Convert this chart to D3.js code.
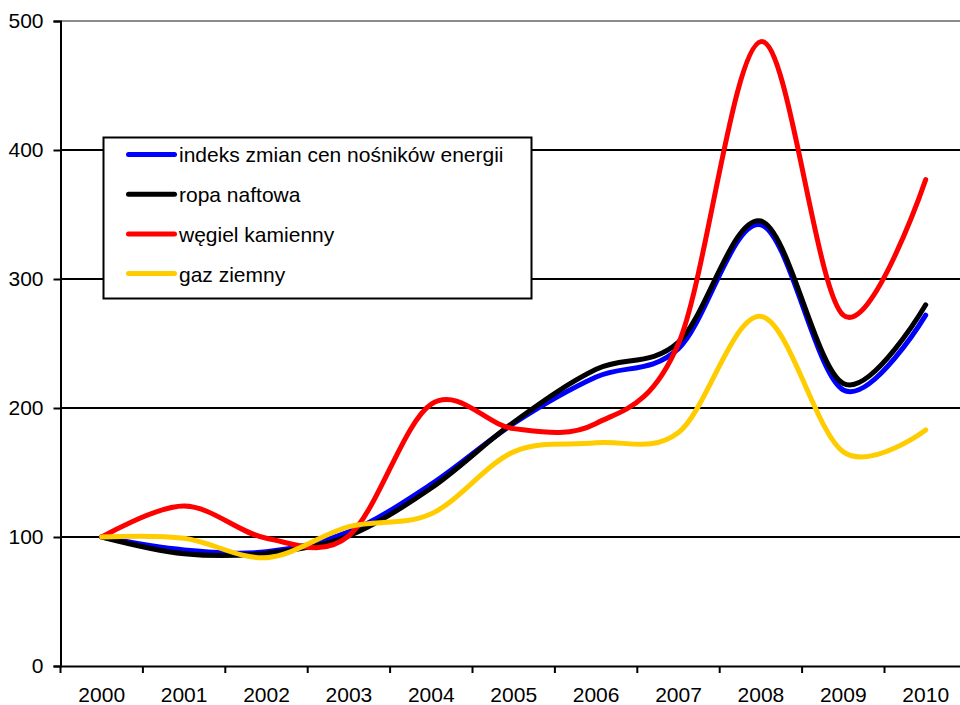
<!DOCTYPE html>
<html lang="pl">
<head>
<meta charset="UTF-8">
<title>Ceny nośników energii 2000-2010</title>
<script src="https://d3js.org/d3.v7.min.js"></script>
<style>
  body { margin: 0; background: #fff; }
  svg { display: block; font-family: Arial, "Liberation Sans", sans-serif; }
</style>
</head>
<body>
<svg id="chart" width="960" height="705"></svg>
<script>
// dane
const years = ["2000","2001","2002","2003","2004","2005","2006","2007","2008","2009","2010"];
const yTicks = [0, 100, 200, 300, 400, 500];
const seriesNames = ["indeks zmian cen nośników energii", "ropa naftowa", "węgiel kamienny", "gaz ziemny"];
const seriesColors = ["#0000ff", "#000000", "#ff0000", "#ffcc00"];
const indeks = [100, 90, 88.5, 104, 141, 188, 224, 246, 342, 214, 272];
const ropa   = [100, 87, 87.5, 101, 138, 189, 230, 251, 345, 219, 280];
const wegiel = [100, 124, 99, 101, 203, 184, 188, 250, 484, 272, 377];
const gaz    = [100, 99, 84, 108, 118, 166, 173, 181, 271, 166, 183];
const values = [indeks, ropa, wegiel, gaz];

const svg = d3.select("#chart");
const plotLeft = 60.5, plotTop = 21, plotBottom = 666;
const fontSize = 21;

const x = d3.scaleBand().domain(years).range([plotLeft, plotLeft + 11 * 82.4]);
const y = d3.scaleLinear().domain([0, 500]).range([plotBottom, plotTop]);

// linie siatki
svg.append("g").selectAll("line")
  .data(yTicks.filter(d => d > 0))
  .join("line")
  .attr("x1", plotLeft).attr("x2", 960)
  .attr("y1", d => y(d)).attr("y2", d => y(d))
  .attr("stroke", d => d === 500 ? "#8c8c8c" : "#000")
  .attr("stroke-width", 2);

// oś Y
const yAxis = svg.append("g")
  .attr("transform", `translate(${plotLeft},0)`)
  .call(d3.axisLeft(y).tickValues(yTicks).tickSize(7).tickPadding(10));
yAxis.select(".domain").attr("stroke-width", 2);
yAxis.selectAll(".tick line").attr("stroke-width", 2);
yAxis.selectAll("text").attr("font-size", fontSize).attr("fill", "#000");

// oś X
const xAxis = svg.append("g")
  .attr("transform", `translate(0,${plotBottom})`)
  .call(d3.axisBottom(x).tickSize(0).tickPadding(21.5));
xAxis.select(".domain").attr("stroke-width", 2);
xAxis.selectAll("text").attr("font-size", fontSize).attr("fill", "#000");
svg.append("g").selectAll("line")
  .data(years.concat(["end"]))
  .join("line")
  .attr("x1", (d, i) => plotLeft + i * x.step()).attr("x2", (d, i) => plotLeft + i * x.step())
  .attr("y1", plotBottom).attr("y2", plotBottom + 7)
  .attr("stroke", "#000").attr("stroke-width", 2);

// linie danych
const line = d3.line()
  .x((d, i) => x(years[i]) + x.bandwidth() / 2)
  .y(d => y(d))
  .curve(d3.curveCardinal.tension(0));

svg.append("g").selectAll("path")
  .data(values)
  .join("path")
  .attr("d", line)
  .attr("fill", "none")
  .attr("stroke", (d, i) => seriesColors[i])
  .attr("stroke-width", 5)
  .attr("stroke-linecap", "round")
  .attr("stroke-linejoin", "round");

// legenda
const legend = svg.append("g").attr("transform", "translate(103.5,137.5)");
legend.append("rect")
  .attr("width", 428).attr("height", 161)
  .attr("fill", "#fff").attr("stroke", "#000").attr("stroke-width", 2);
const item = legend.selectAll("g.item")
  .data(seriesNames)
  .join("g")
  .attr("class", "item")
  .attr("transform", (d, i) => `translate(0,${17 + i * 39.7})`);
item.append("line")
  .attr("x1", 25).attr("x2", 71)
  .attr("stroke", (d, i) => seriesColors[i])
  .attr("stroke-width", 5)
  .attr("stroke-linecap", "round");
item.append("text")
  .attr("x", 75.5).attr("dy", "0.38em")
  .attr("font-size", fontSize)
  .attr("fill", "#000")
  .text(d => d);
</script>
</body>
</html>
